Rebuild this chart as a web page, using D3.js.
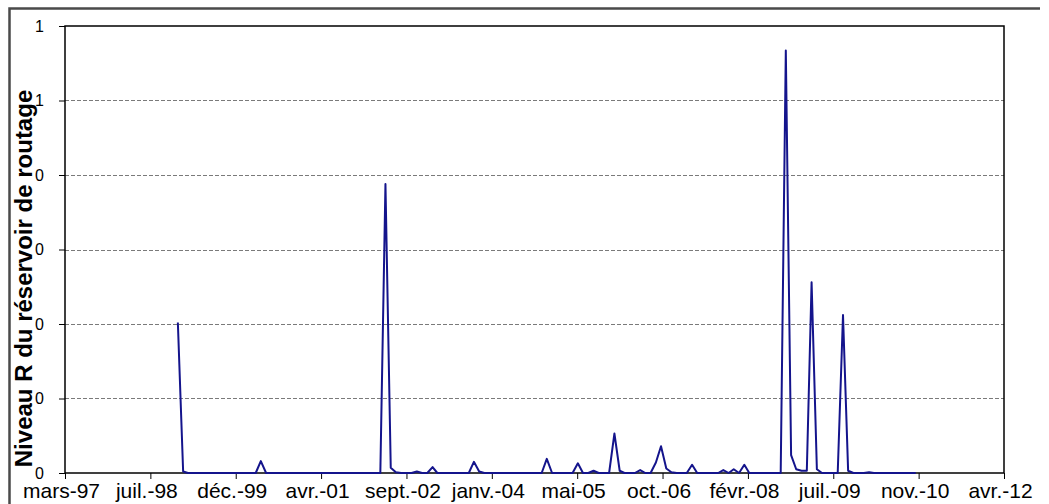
<!DOCTYPE html>
<html>
<head>
<meta charset="utf-8">
<script src="https://cdn.jsdelivr.net/npm/d3@7"></script>
<style>
  html, body { margin: 0; padding: 0; background: #fff; overflow: hidden; }
  svg { display: block; }
</style>
</head>
<body>
<svg id="chart" width="1049" height="504"></svg>
<script>
// Monthly level R of the routing reservoir, one array per year (Jan..Dec)
const r1999 = [0.202, 0.002, 0, 0, 0, 0, 0, 0, 0, 0, 0, 0];
const r2000 = [0, 0, 0, 0, 0.016, 0, 0, 0, 0, 0, 0, 0];
const r2001 = [0, 0, 0, 0, 0, 0, 0, 0, 0, 0, 0, 0];
const r2002 = [0, 0, 0, 0, 0.388, 0.007, 0.001, 0, 0, 0, 0.002, 0];
const r2003 = [0, 0.008, 0, 0, 0, 0, 0, 0, 0, 0.015, 0.002, 0];
const r2004 = [0, 0, 0, 0, 0, 0, 0, 0, 0, 0, 0, 0.019];
const r2005 = [0, 0, 0, 0, 0, 0.013, 0, 0, 0.003, 0, 0, 0];
const r2006 = [0.053, 0.003, 0, 0, 0, 0.004, 0, 0, 0.014, 0.036, 0.006, 0.001];
const r2007 = [0, 0, 0, 0.011, 0, 0, 0, 0, 0, 0.004, 0, 0.005];
const r2008 = [0, 0.011, 0, 0, 0, 0, 0, 0, 0, 0.567, 0.024, 0.005];
const r2009 = [0.003, 0.003, 0.256, 0.005, 0, 0, 0, 0, 0.212, 0.003, 0, 0];
const r2010 = [0, 0.001, 0, 0, 0, 0, 0, 0, 0, 0, 0];   // Jan..Nov
const seriesStart = Date.UTC(1999, 0, 1);

// Axis settings (date axis: one major tick every 500 days)
const axisStart = Date.UTC(1997, 2, 11);
const axisEnd = Date.UTC(2012, 3, 1);
const tickStepDays = 500;
const xTickLabels = ["mars-97", "juil.-98", "déc.-99", "avr.-01", "sept.-02", "janv.-04",
                     "mai-05", "oct.-06", "févr.-08", "juil.-09", "nov.-10", "avr.-12"];
const yTickValues = [0, 0.1, 0.2, 0.3, 0.4, 0.5, 0.6];
const yTickLabels = ["0", "0", "0", "0", "0", "1", "1"];
const yTitle = "Niveau R du réservoir de routage";

const FONT = "'Liberation Sans', Arial, Helvetica, sans-serif";

const values = [r1999, r2000, r2001, r2002, r2003, r2004, r2005,
                r2006, r2007, r2008, r2009, r2010].flat();
const data = values.map((v, i) => ({
  date: d3.utcMonth.offset(new Date(seriesStart), i),
  value: v
}));

const plot = { left: 65, right: 1004, top: 26, bottom: 473 };

const svg = d3.select("#chart");

const x = d3.scaleUtc()
  .domain([new Date(axisStart), new Date(axisEnd)])
  .range([plot.left, plot.right]);

const y = d3.scaleLinear()
  .domain([0, 0.6])
  .range([plot.bottom, plot.top]);

const xTickValues = xTickLabels.map((_, i) => d3.utcDay.offset(new Date(axisStart), i * tickStepDays));

// Chart area frame (left and top edges)
svg.append("path")
  .attr("d", "M9.5,504 V8.5 H1040")
  .attr("fill", "none")
  .attr("stroke", "#4a4a4a")
  .attr("stroke-width", 2.5);

// Horizontal dashed gridlines
svg.append("g")
  .selectAll("line")
  .data(yTickValues.filter(v => v > 0 && v < 0.6))
  .join("line")
  .attr("x1", plot.left)
  .attr("x2", plot.right)
  .attr("y1", d => Math.round(y(d)) + 0.5)
  .attr("y2", d => Math.round(y(d)) + 0.5)
  .attr("stroke", "#7a7a7a")
  .attr("stroke-width", 1)
  .attr("stroke-dasharray", "4,2");

// Y axis
const yAxis = svg.append("g")
  .attr("transform", `translate(${plot.left},0)`)
  .call(d3.axisLeft(y)
    .tickValues(yTickValues)
    .tickFormat((d, i) => yTickLabels[i])
    .tickSize(6)
    .tickPadding(15));
yAxis.select(".domain").remove();
yAxis.selectAll(".tick line").attr("stroke", "#000");
yAxis.selectAll("text")
  .attr("fill", "#000")
  .style("font-family", FONT)
  .style("font-size", "16px");

// X axis
const xAxis = svg.append("g")
  .attr("transform", `translate(0,${plot.bottom})`)
  .call(d3.axisBottom(x)
    .tickValues(xTickValues)
    .tickFormat((d, i) => xTickLabels[i])
    .tickSize(6));
xAxis.select(".domain").remove();
xAxis.selectAll(".tick line").attr("stroke", "#000");
xAxis.selectAll("text")
  .attr("y", 25)
  .attr("dy", 0)
  .attr("x", -4)
  .attr("fill", "#000")
  .style("font-family", FONT)
  .style("font-size", "21px");

// Plot area border
svg.append("rect")
  .attr("x", plot.left)
  .attr("y", plot.top)
  .attr("width", plot.right - plot.left)
  .attr("height", plot.bottom - plot.top)
  .attr("fill", "none")
  .attr("stroke", "#000")
  .attr("stroke-width", 1.5);

// Series line
svg.append("path")
  .datum(data)
  .attr("fill", "none")
  .attr("stroke", "#14148c")
  .attr("stroke-width", 2)
  .attr("stroke-linejoin", "round")
  .attr("d", d3.line()
    .x(d => x(d.date))
    .y(d => y(d.value)));

// Y axis title
svg.append("text")
  .attr("transform", `translate(32,${(plot.top + plot.bottom) / 2 + 29}) rotate(-90)`)
  .attr("text-anchor", "middle")
  .attr("fill", "#000")
  .style("font-family", FONT)
  .style("font-size", "24px")
  .style("font-weight", "bold")
  .text(yTitle);
</script>
</body>
</html>
